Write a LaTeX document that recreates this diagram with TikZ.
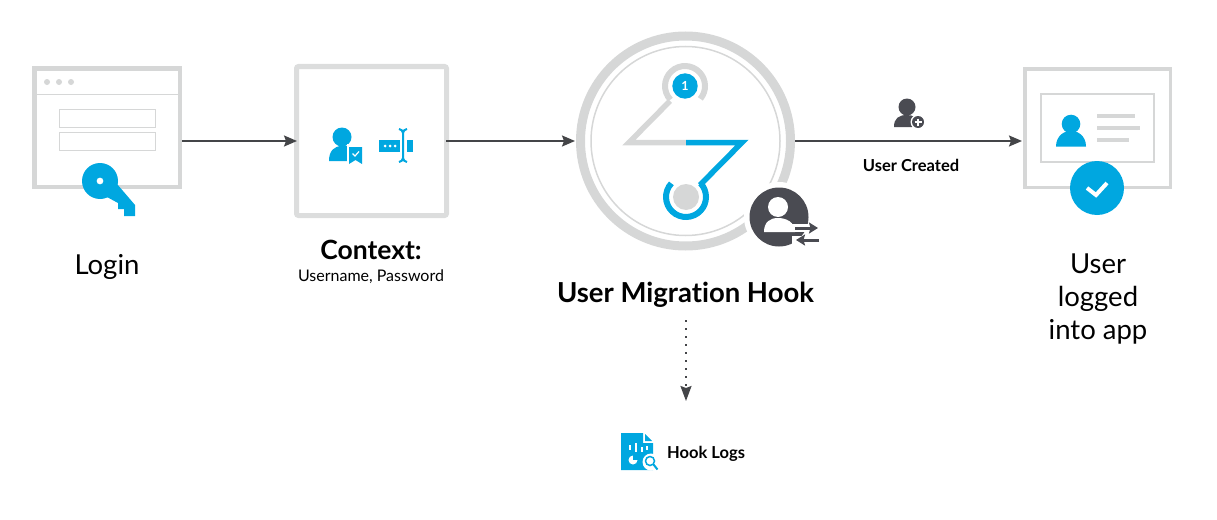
\documentclass[tikz,border=0pt]{standalone}
\usepackage{fontspec}
\setmainfont{Lato}[Ligatures=NoCommon]
\usetikzlibrary{arrows.meta}
\definecolor{skyblue}{HTML}{00A7E0}
\definecolor{panelgray}{HTML}{D6D7D7}
\definecolor{inkgray}{HTML}{4A4B52}
\definecolor{linegray}{HTML}{444548}
\tikzset{
  panel/.style={draw=panelgray,fill=white,rectangle,inner sep=0pt},
  flow/.style={draw=linegray,line width=1.8pt,-{Stealth[length=13pt,width=11pt,inset=2pt]}},
  caption/.style={font=\fontsize{27.5}{33}\selectfont,align=center,text=black},
  boldcap/.style={font=\bfseries\fontsize{#1}{#1}\selectfont,text=black,inner sep=0pt}
}
% user silhouette: head centre, head radius, half width of shoulders, bottom
\newcommand{\usershape}[5]{%
  \fill[#1] (#2,#3) circle (#4*0.62);
  \fill[#1] (#2-#4,#3+#4*1.5) .. controls (#2-#4,#3+#4*0.75) and (#2-#4*0.4,#3+#4*0.45) .. (#2,#3+#4*0.45)
    .. controls (#2+#4*0.4,#3+#4*0.45) and (#2+#4,#3+#4*0.75) .. (#2+#4,#3+#4*1.5) -- cycle;
}
\begin{document}
\begin{tikzpicture}[x=1pt,y=-1pt]
\useasboundingbox (0,0) rectangle (1217,519);

% Login window
\node[panel,line width=4.5pt,minimum width=145.5pt,minimum height=118.5pt] (loginbox) at (107,127.5) {};
\draw[panelgray,line width=1pt] (34,94) -- (180,94);
\foreach \x in {47,59,71}
  \fill[panelgray] (\x,82) circle (3);
\foreach \y in {118,141}
  \draw[panelgray,line width=1pt] (59,\y-9) rectangle (155,\y+9);
\fill[skyblue,even odd rule] (100,181) circle (18) (100,181) circle (3.5);
\fill[skyblue] (117,184) -- (135,205) -- (135,216) -- (124,216) -- (124,209) -- (118,209) -- (118,203) -- (107,197) -- cycle;

% Context panel
\node[panel,draw=panelgray!85,line width=5pt,rounded corners=2pt,minimum width=150pt,minimum height=149pt] (contextbox) at (371.5,141) {};
\fill[skyblue] (342,137) circle (9.5);
\fill[skyblue] (329,161) .. controls (329,151) and (334,146) .. (342,146) -- (349,146) -- (349,161) -- cycle;
\fill[white] (347,144) rectangle (364,166);
\fill[skyblue] (349,147) -- (362,147) -- (362,164) -- (355.5,160) -- (349,164) -- cycle;
\draw[white,line width=1.2pt] (352.5,153.5) -- (355,156) -- (359,151.5);
\fill[skyblue] (379,140) rectangle (400,152);
\fill[skyblue] (407,140) rectangle (413,152);
\foreach \x in {385,390,395}
  \fill[white] (\x,146) circle (1.5);
\draw[skyblue,line width=2pt] (399,129) .. controls (402,130) .. (403,133) -- (403,158) .. controls (402,161) .. (399,162)
  (407,129) .. controls (404,130) .. (403,133) (403,158) .. controls (404,161) .. (407,162);

% Hook circle
\node[circle,draw=panelgray,line width=9pt,inner sep=0pt,minimum size=210pt] (hookring) at (685.5,141) {};
\draw[panelgray,line width=1.5pt] (685.5,141) circle (94.5);
\fill[white] (779,217) circle (35);
\draw[panelgray,line width=6pt] (685,86)++(137:20) arc (137:400:20);
\fill[skyblue] (685,86) circle (12.7);
\node[font=\bfseries\fontsize{12.5}{12.5}\selectfont,text=white,inner sep=0pt] (hookone) at (685,86) {1};
\draw[panelgray,line width=5.5pt,miter limit=10] (670,101) -- (629,142.5) -- (686,142.5);
\draw[skyblue,line width=5.5pt,miter limit=10] (686,142.5) -- (742,142.5) -- (700,185);
\draw[skyblue,line width=6pt] (686,197)++(223:20) arc (223:-43:20);
\fill[panelgray] (686,197) circle (13);
\fill[inkgray] (779,217) circle (29.5);
\fill[white] (778,207) circle (10);
\fill[white] (764,232) .. controls (764,222) and (770,218) .. (778,218) .. controls (786,218) and (795,222) .. (795,232) -- cycle;
\draw[white,line width=8pt] (790,228) -- (820,228) (792,240) -- (821,240);
\draw[inkgray,line width=3pt,-{Stealth[length=9pt,width=11pt,inset=1.5pt]}] (795,228) -- (818,228);
\draw[inkgray,line width=3pt,-{Stealth[length=9pt,width=11pt,inset=1.5pt]}] (819,240) -- (796,240);

% Logged in panel
\node[panel,line width=3.5pt,minimum width=145.5pt,minimum height=118.5pt] (userbox) at (1097.5,128) {};
\draw[panelgray,line width=1.5pt] (1041,94) rectangle (1154,162);
\usershape{skyblue}{1071}{124}{15}{}
\foreach \y/\xend in {116/1135,128/1140,140/1129}
  \draw[panelgray,line width=4pt] (1097,\y) -- (\xend,\y);
\fill[skyblue] (1097,188) circle (27);
\draw[white,line width=4pt] (1087,188) -- (1096,195) -- (1107,183);

% User created icon
\fill[inkgray] (907,107) circle (8.5);
\fill[inkgray] (894,127) .. controls (894,118) and (899,115) .. (907,115) .. controls (913,115) and (918,118) .. (919,122) -- (912,127) -- cycle;
\fill[white] (918,122) circle (7.5);
\fill[inkgray] (918,122) circle (6);
\draw[white,line width=1.2pt] (914.5,122) -- (921.5,122) (918,118.5) -- (918,125.5);

% Hook logs icon
\node[inner sep=0pt,minimum width=32pt,minimum height=37pt] (logsicon) at (637,451.5) {};
\fill[skyblue] (621,433) -- (643,433) -- (643,443) -- (653,443) -- (653,470) -- (621,470) -- cycle;
\fill[skyblue] (645,434) -- (652,441) -- (645,441) -- cycle;
\foreach \x/\ytop/\ybot in {630/445/450,636/443/452,642/447/452,647/446/450}
  \draw[white,line width=1.5pt] (\x,\ytop) -- (\x,\ybot);
\fill[white] (633,460) circle (4.5);
\fill[skyblue] (633,460) -- (633,455) -- (638,455) -- (638,460) -- cycle;
\fill[white] (651,462) circle (8.5);
\draw[skyblue,line width=1.5pt] (650,461) circle (4.5);
\draw[skyblue,line width=2pt] (653.5,464.5) -- (657.5,469.5);

% Labels
\node[caption] (loginlabel) at (107,267) {Login};
\node[boldcap=26.5] (contextlabel) at (371,250) {Context:};
\node[font=\fontsize{16}{16}\selectfont,inner sep=0pt] (contextsub) at (371,277) {Username, Password};
\node[boldcap=27.5] (hooklabel) at (685.5,295) {User Migration Hook};
\node[boldcap=16.5] (createdlabel) at (911,165) {User Created};
\node[boldcap=16.5,anchor=west] (logslabel) at (667,454) {Hook Logs};
\node[caption] (userlabel) at (1098,299.5) {User\\logged\\into app};

% Arrows
\coordinate (dotstart) at (686,320);
\coordinate (dotend) at (686,401);
\draw[flow] (loginbox.east |- contextbox) -- ([xshift=3pt]contextbox.west);
\draw[flow] (contextbox) ++(74.5,0) -- ([xshift=-1pt]hookring.west);
\draw[flow] (hookring.east) -- ([xshift=-1pt]userbox.west |- hookring);
\draw[flow,dash pattern=on 2pt off 6pt,-{Stealth[length=15pt,width=11pt,inset=2pt]}] (dotstart) -- (dotend);
\end{tikzpicture}
\end{document}
